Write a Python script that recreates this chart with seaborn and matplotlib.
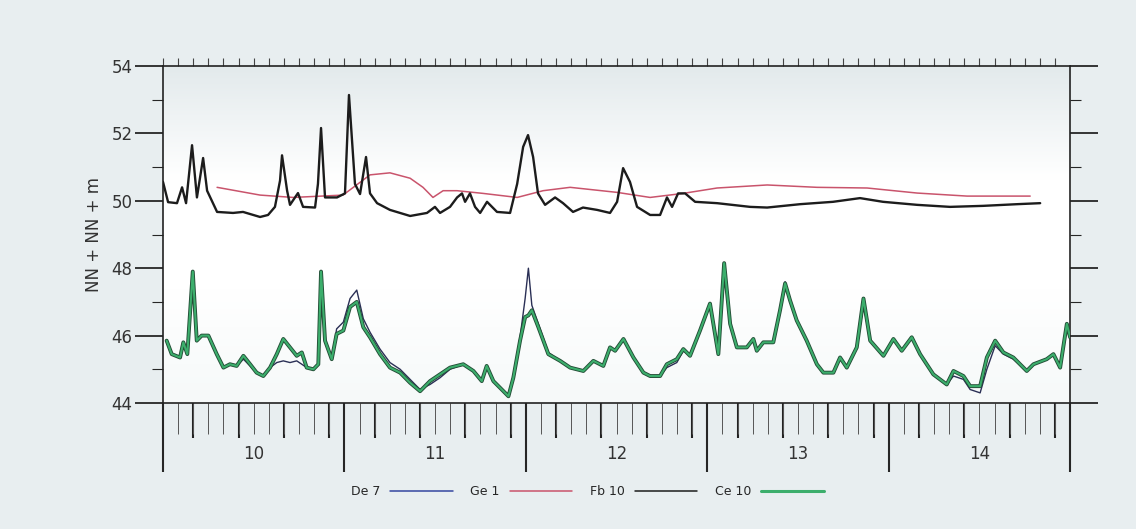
import numpy as np
import pandas as pd
import seaborn as sns
import matplotlib
matplotlib.use("Agg")
import matplotlib.pyplot as plt
import matplotlib.patheffects as pe
from matplotlib.colors import LinearSegmentedColormap
from matplotlib.lines import Line2D

# upper group: Fb 10 (black, spiky) and Ge 1 (pink, smooth)
fb_x = [9.500, 9.528, 9.577, 9.605, 9.627, 9.660, 9.687, 9.721, 9.743, 9.798,
        9.886, 9.941, 10.035, 10.079, 10.117, 10.145, 10.156, 10.184, 10.200, 10.244,
        10.272, 10.338, 10.354, 10.371, 10.393, 10.459, 10.503, 10.525, 10.558, 10.586,
        10.619, 10.641, 10.680, 10.751, 10.862, 10.955, 10.999, 11.027, 11.082, 11.121,
        11.148, 11.165, 11.192, 11.220, 11.248, 11.286, 11.341, 11.413, 11.452, 11.485,
        11.512, 11.540, 11.567, 11.606, 11.661, 11.705, 11.760, 11.815, 11.893, 11.964,
        12.003, 12.036, 12.074, 12.113, 12.185, 12.240, 12.278, 12.306, 12.339, 12.378,
        12.433, 12.554, 12.736, 12.830, 13.012, 13.193, 13.342, 13.469, 13.657, 13.838,
        14.020, 14.208, 14.335]
fb_y = [50.56, 49.96, 49.93, 50.40, 49.93, 51.65, 50.10, 51.27, 50.30, 49.67,
        49.64, 49.67, 49.52, 49.58, 49.82, 50.60, 51.35, 50.30, 49.88, 50.23,
        49.82, 49.80, 50.50, 52.16, 50.10, 50.10, 50.22, 53.14, 50.50, 50.20,
        51.30, 50.22, 49.93, 49.73, 49.55, 49.64, 49.82, 49.64, 49.82, 50.10,
        50.22, 49.97, 50.22, 49.82, 49.64, 49.97, 49.67, 49.64, 50.50, 51.60,
        51.95, 51.30, 50.22, 49.88, 50.10, 49.93, 49.67, 49.80, 49.73, 49.64,
        49.97, 50.97, 50.56, 49.82, 49.58, 49.58, 50.10, 49.82, 50.22, 50.22,
        49.97, 49.93, 49.82, 49.80, 49.90, 49.97, 50.08, 49.97, 49.88, 49.82,
        49.85, 49.90, 49.93]

ge_x = [9.798, 10.035, 10.217, 10.492, 10.641, 10.751, 10.862, 10.933, 10.988, 11.044,
        11.121, 11.264, 11.452, 11.595, 11.744, 12.003, 12.185, 12.367, 12.554, 12.830,
        13.105, 13.381, 13.657, 13.932, 14.280]
ge_y = [50.40, 50.17, 50.10, 50.17, 50.77, 50.83, 50.67, 50.40, 50.10, 50.30,
        50.30, 50.22, 50.10, 50.30, 50.40, 50.25, 50.10, 50.22, 50.38, 50.47,
        50.40, 50.38, 50.23, 50.14, 50.14]

# lower group: Ce 10 (green) and De 7 (blue), same time stamps
low_x = [9.520, 9.548, 9.594, 9.612, 9.634, 9.664, 9.686, 9.713, 9.750, 9.796,
         9.833, 9.869, 9.906, 9.943, 9.980, 10.016, 10.053, 10.090, 10.127, 10.163,
         10.200, 10.237, 10.265, 10.292, 10.329, 10.356, 10.371, 10.393, 10.430, 10.457,
         10.494, 10.531, 10.568, 10.604, 10.641, 10.696, 10.751, 10.807, 10.862, 10.917,
         10.972, 11.027, 11.082, 11.155, 11.211, 11.257, 11.284, 11.321, 11.358, 11.404,
         11.431, 11.468, 11.496, 11.514, 11.533, 11.569, 11.624, 11.689, 11.744, 11.817,
         11.872, 11.927, 11.964, 11.992, 12.038, 12.093, 12.148, 12.185, 12.240, 12.277,
         12.332, 12.368, 12.405, 12.460, 12.515, 12.561, 12.593, 12.626, 12.663, 12.718,
         12.754, 12.773, 12.809, 12.864, 12.901, 12.929, 12.956, 12.993, 13.048, 13.104,
         13.140, 13.195, 13.232, 13.269, 13.324, 13.361, 13.398, 13.471, 13.526, 13.572,
         13.627, 13.673, 13.746, 13.820, 13.857, 13.912, 13.949, 14.004, 14.041, 14.087,
         14.132, 14.187, 14.261, 14.298, 14.371, 14.408, 14.445, 14.482, 14.500]
ce_y = [45.85, 45.45, 45.35, 45.80, 45.45, 47.90, 45.85, 46.00, 46.00, 45.45,
        45.05, 45.15, 45.10, 45.40, 45.15, 44.90, 44.80, 45.05, 45.45, 45.90,
        45.65, 45.40, 45.50, 45.05, 45.00, 45.15, 47.90, 45.85, 45.30, 46.05,
        46.15, 46.85, 47.00, 46.25, 45.95, 45.45, 45.05, 44.90, 44.60, 44.35,
        44.65, 44.85, 45.05, 45.15, 44.95, 44.65, 45.10, 44.65, 44.45, 44.20,
        44.75, 45.85, 46.55, 46.60, 46.75, 46.25, 45.45, 45.25, 45.05, 44.95,
        45.25, 45.10, 45.65, 45.55, 45.90, 45.35, 44.90, 44.80, 44.80, 45.15,
        45.30, 45.60, 45.40, 46.15, 46.95, 45.45, 48.15, 46.35, 45.65, 45.65,
        45.90, 45.55, 45.80, 45.80, 46.75, 47.55, 47.05, 46.45, 45.85, 45.15,
        44.90, 44.90, 45.35, 45.05, 45.65, 47.10, 45.85, 45.40, 45.90, 45.55,
        45.95, 45.45, 44.85, 44.55, 44.95, 44.80, 44.50, 44.50, 45.35, 45.85,
        45.50, 45.35, 44.95, 45.15, 45.30, 45.45, 45.05, 46.35, 45.95]
de_y = [45.85, 45.45, 45.35, 45.80, 45.45, 47.90, 45.85, 46.00, 46.00, 45.45,
        45.05, 45.15, 45.10, 45.30, 45.10, 44.90, 44.80, 45.05, 45.20, 45.25,
        45.20, 45.25, 45.15, 45.05, 45.00, 45.15, 47.90, 45.85, 45.30, 46.20,
        46.40, 47.10, 47.35, 46.50, 46.10, 45.60, 45.20, 45.00, 44.70, 44.40,
        44.55, 44.75, 45.00, 45.15, 44.95, 44.65, 45.10, 44.65, 44.45, 44.20,
        44.75, 45.95, 47.10, 48.00, 46.90, 46.35, 45.50, 45.25, 45.05, 44.95,
        45.25, 45.10, 45.65, 45.55, 45.90, 45.35, 44.90, 44.80, 44.80, 45.05,
        45.20, 45.55, 45.40, 46.15, 46.95, 45.45, 47.90, 46.35, 45.65, 45.65,
        45.90, 45.55, 45.80, 45.80, 46.75, 47.60, 47.10, 46.45, 45.85, 45.15,
        44.90, 44.90, 45.35, 45.05, 45.65, 46.90, 45.85, 45.40, 45.90, 45.55,
        45.95, 45.45, 44.85, 44.55, 44.80, 44.70, 44.40, 44.30, 45.00, 45.70,
        45.45, 45.30, 44.95, 45.15, 45.30, 45.45, 45.05, 46.35, 45.95]

day_labels = ["10", "11", "12", "13", "14"]
legend_names = ["De 7", "Ge 1", "Fb 10", "Ce 10"]
colors = {"De 7": "#3546a0", "Ge 1": "#c9546c", "Fb 10": "#1c1c1c", "Ce 10": "#3cae6c"}

upper_fb = pd.DataFrame({"t": fb_x, "v": fb_y})
upper_ge = pd.DataFrame({"t": ge_x, "v": ge_y})
lower = pd.DataFrame({"t": low_x, "ce": ce_y, "de": de_y})

sns.set_theme(style="white")
plt.rcParams["font.family"] = ["DejaVu Sans"]

fig = plt.figure(figsize=(11.36, 5.29), dpi=100, facecolor="#e8eef0")
ax = fig.add_axes([0.1435, 0.2382, 0.7985, 0.637])

# soft background gradient inside the plot area
grad = LinearSegmentedColormap.from_list("bg", ["#f6f9f9", "#ffffff", "#ffffff", "#e3eaec"])
ax.imshow(np.linspace(0, 1, 200)[:, None], extent=(0, 1, 0, 1), transform=ax.transAxes,
          aspect="auto", cmap=grad, origin="lower", zorder=0)

sns.lineplot(data=upper_ge, x="t", y="v", ax=ax, color=colors["Ge 1"], lw=1.1,
             estimator=None, sort=False, zorder=2)
sns.lineplot(data=upper_fb, x="t", y="v", ax=ax, color=colors["Fb 10"], lw=1.7,
             estimator=None, sort=False, zorder=3)
sns.lineplot(data=lower, x="t", y="de", ax=ax, color="#2a2f55", lw=1.0,
             estimator=None, sort=False, zorder=3)
g = sns.lineplot(data=lower, x="t", y="ce", ax=ax, color=colors["Ce 10"], lw=1.5,
                 estimator=None, sort=False, zorder=4)
g.lines[-1].set_path_effects([pe.Stroke(linewidth=2.8, foreground="#234d36"), pe.Normal()])

ax.set_xlim(9.5, 14.5)
ax.set_ylim(44, 54)
ax.set_xlabel("")
ax.set_ylabel("NN + NN + m", fontsize=12, color="#333333", labelpad=6)

for s in ax.spines.values():
    s.set_color("#222222")
    s.set_linewidth(1.2)

# y ticks: both sides
ax.set_yticks([44, 46, 48, 50, 52, 54])
ax.set_yticks(np.arange(45, 54, 2), minor=True)
ax.tick_params(axis="y", which="major", direction="out", length=20, width=1.3,
               left=True, right=True, labelsize=12, labelcolor="#333333", pad=2)
ax.tick_params(axis="y", which="minor", direction="out", length=8, width=0.8,
               left=True, right=True)

# x ticks: day boundaries long, 2-hour minor short, labels in between
ax.set_xticks(np.arange(9.5, 14.6, 1.0))
ax.set_xticklabels([])
ax.set_xticks(np.arange(9.5, 14.5, 1 / 12), minor=True)
ax.tick_params(axis="x", which="major", direction="out", length=50, width=1.5,
               bottom=True, top=False)
ax.tick_params(axis="x", which="minor", direction="out", length=22, width=0.7,
               bottom=True, top=False, colors="#555555")

mid = ax.secondary_xaxis("bottom")
mid.set_xticks(np.concatenate([d + np.array([4, 10, 16, 22]) / 24 for d in np.arange(9.5, 14.5)]))
mid.set_xticklabels([])
mid.tick_params(direction="out", length=25, width=1.5, colors="#222222")
mid.spines["bottom"].set_visible(False)

lab = ax.secondary_xaxis("bottom")
lab.set_xticks([10, 11, 12, 13, 14])
lab.set_xticklabels(day_labels, fontsize=12, color="#333333")
lab.tick_params(length=0, pad=30)
lab.spines["bottom"].set_visible(False)

top = ax.secondary_xaxis("top")
top.set_xticks(np.arange(9.5, 14.5, 1 / 12))
top.set_xticklabels([])
top.tick_params(direction="out", length=6, width=0.8, colors="#444444")
top.spines["top"].set_visible(False)

handles = [Line2D([], [], color=colors[n], lw=2.2 if n == "Ce 10" else 1.1) for n in legend_names]
fig.legend(handles, legend_names, loc="center", bbox_to_anchor=(0.517, 0.07), ncol=4,
           frameon=False, markerfirst=False, handlelength=5, columnspacing=1.4,
           handletextpad=0.8, prop={"size": 9})

fig.savefig("out.png", dpi=100, facecolor=fig.get_facecolor())
